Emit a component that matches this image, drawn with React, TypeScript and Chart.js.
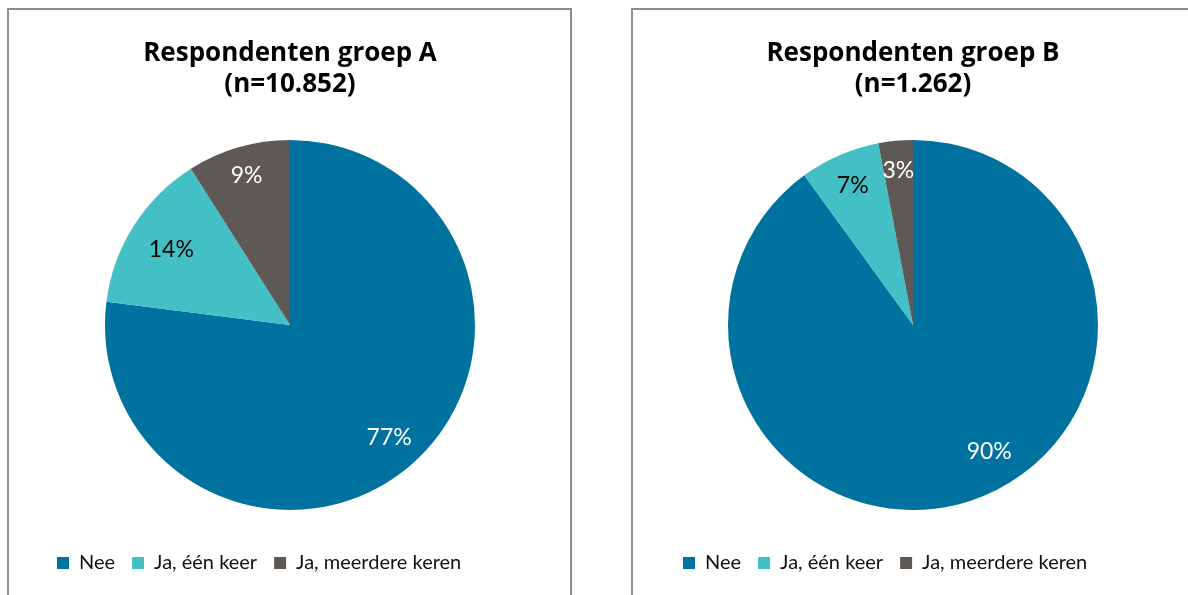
import React, { useEffect, useRef } from "react";
import { Chart, registerables } from "chart.js";

Chart.register(...registerables);

const categories = ["Nee", "Ja, één keer", "Ja, meerdere keren"];
const groupAValues = [77, 14, 9];
const groupBValues = [90, 7, 3];
const groupATitle = ["Respondenten groep A", "(n=10.852)"];
const groupBTitle = ["Respondenten groep B", "(n=1.262)"];

const sliceColors = ["#00729F", "#43C0C6", "#5E5955"];
const labelColors = ["#FFFFFF", "#000000", "#FFFFFF"];
const FONT = "Lato, 'Noto Sans', sans-serif";
const TITLE_FONT = "'Open Sans', Lato, sans-serif";

const pieLabelPlugin = {
  id: "pieLabels",
  afterDatasetsDraw(chart: any, _args: any, opts: any) {
    const ctx = chart.ctx;
    const meta = chart.getDatasetMeta(0);
    const data = chart.data.datasets[0].data as number[];
    const total = data.reduce((a: number, b: number) => a + b, 0);
    ctx.save();
    ctx.font = `${opts.size}px ${FONT}`;
    ctx.textAlign = "center";
    ctx.textBaseline = "middle";
    meta.data.forEach((arc: any, i: number) => {
      const p = arc.getProps(["x", "y", "startAngle", "endAngle", "outerRadius"], true);
      const shift = ((opts.angleShift?.[i] ?? 0) * Math.PI) / 180;
      const mid = (p.startAngle + p.endAngle) / 2 + shift;
      const r = p.outerRadius * (opts.radial?.[i] ?? 0.8);
      const tx = p.x + Math.cos(mid) * r;
      const ty = p.y + Math.sin(mid) * r;
      ctx.fillStyle = labelColors[i];
      ctx.fillText(Math.round((data[i] / total) * 100) + "%", tx, ty);
    });
    ctx.restore();
  },
};

function PieChart({ values, title, padL, radial, angleShift }: any) {
  const ref = useRef<HTMLCanvasElement>(null);
  useEffect(() => {
    const chart = new Chart(ref.current as HTMLCanvasElement, {
      type: "pie",
      data: {
        labels: categories,
        datasets: [
          {
            data: values,
            backgroundColor: sliceColors,
            borderWidth: 0,
            radius: 185,
          },
        ],
      },
      options: {
        animation: false,
        responsive: false,
        maintainAspectRatio: false,
        layout: { padding: { left: padL, right: padL, top: 0, bottom: 12 } },
        plugins: {
          tooltip: { enabled: false },
          title: {
            display: true,
            text: title,
            color: "#000000",
            font: { family: TITLE_FONT, size: 26, weight: "bold", lineHeight: 1.19 },
            padding: { top: 28, bottom: 14 },
          },
          legend: {
            display: true,
            position: "bottom",
            align: "start",
            labels: {
              boxWidth: 12,
              boxHeight: 12,
              padding: 17,
              color: "#111111",
              font: { family: FONT, size: 20 },
            },
          },
          pieLabels: { size: 23, radial, angleShift },
        } as any,
      },
      plugins: [pieLabelPlugin],
    });
    return () => chart.destroy();
  }, []);
  return <canvas ref={ref} width={560} height={585} style={{ display: "block", width: 560, height: 585 }} />;
}

export default function App() {
  return (
    <div style={{ position: "fixed", inset: 0, overflow: "hidden", background: "#fff" }}>
      <div
        style={{
          position: "absolute",
          left: 7,
          top: 8,
          width: 565,
          height: 620,
          boxSizing: "border-box",
          border: "2px solid #8c8c8c",
        }}
      />
      <div
        style={{
          position: "absolute",
          left: 631,
          top: 8,
          width: 620,
          height: 620,
          boxSizing: "border-box",
          border: "2px solid #8c8c8c",
        }}
      />
      <div style={{ position: "absolute", left: 10, top: 10 }}>
        <PieChart values={groupAValues} title={groupATitle} padL={30} radial={[0.81, 0.76, 0.84]} angleShift={[0, 0, 0]} />
      </div>
      <div style={{ position: "absolute", left: 633, top: 10 }}>
        <PieChart values={groupBValues} title={groupBTitle} padL={33} radial={[0.8, 0.82, 0.84]} angleShift={[-13, 0, 0]} />
      </div>
    </div>
  );
}
